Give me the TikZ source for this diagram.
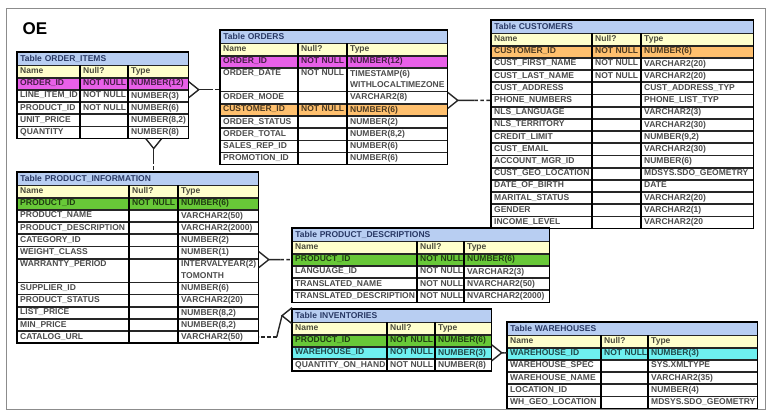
\documentclass[tikz,border=0pt]{standalone}
\usepackage{fontspec}
\setmainfont{Liberation Sans}
\usetikzlibrary{positioning,calc}

\definecolor{titleblue}{RGB}{184,206,242}
\definecolor{titlenavy}{RGB}{40,56,100}
\definecolor{hdryellow}{RGB}{255,255,204}
\definecolor{pkmag}{RGB}{232,96,232}
\definecolor{custorange}{RGB}{255,192,110}
\definecolor{prodgreen}{RGB}{104,200,56}
\definecolor{whcyan}{RGB}{110,240,240}

\newcommand{\rowh}{11.5pt}
\newcommand{\cellfont}{\fontsize{8.5}{11.5}\selectfont\bfseries}

\tikzset{
    tbltitle/.style={draw=black, line width=0.8pt, fill=titleblue, anchor=north west,
        inner xsep=3pt, inner ysep=0pt, minimum height=12.5pt, align=left,
        text=titlenavy, font=\cellfont},
    tblrow/.style={draw=black!85, line width=0.7pt, anchor=north west, inner sep=0pt},
    cell/.style={anchor=north west, inner sep=0pt, align=left, font=\cellfont},
    coldiv/.style={line width=1.3pt},
    tblframe/.style={line width=1.5pt},
    crow/.pic={\draw[relline] (0,-8) -- (10,0) -- (0,8);}
}

% one row: name, null and type cells plus the column dividers
\newcommand{\ercells}[7]{%
    \node[cell, text=#7!30!black] (#1-n) at ($(#1.north west)+(3,2.1)$) {#4};
    \node[cell, text=#7!30!black] (#1-u) at ($(#1.north west)+(#2+3,2.1)$) {#5};
    \node[cell, text=#7!30!black] (#1-t) at ($(#1.north west)+(#2+#3+3,2.1)$) {#6};
    \draw[coldiv] ($(#1.north west)+(#2,0)$) -- ($(#1.south west)+(#2,0)$);
    \draw[coldiv] ($(#1.north west)+(#2+#3,0)$) -- ($(#1.south west)+(#2+#3,0)$);
}

% a table: name, x, y, three column widths, title, rows
\newcommand{\ertable}[8]{%
    \pgfmathsetmacro\erw{#4+#5+#6}
    \pgfmathsetmacro\ertw{#4+#5+#6-6}
    \node[tbltitle, text width=\ertw pt] (#1) at (#2,#3) {Table #7};
    \node[tblrow, fill=hdryellow, minimum width=\erw pt, minimum height=\rowh] (#1-0) at (#1.south west) {};
    \ercells{#1-0}{#4}{#5}{Name}{Null?}{Type}{hdryellow}
    \foreach \fname/\fnull/\ftype/\ffill/\flines [count=\i] in {#8} {
        \pgfmathtruncatemacro\j{\i-1}
        \node[tblrow, fill=\ffill, minimum width=\erw pt, minimum height=\flines*\rowh] (#1-\i) at (#1-\j.south west) {};
        \ercells{#1-\i}{#4}{#5}{\fname}{\fnull}{\ftype}{\ffill}
        \xdef\erlast{\i}
    }
    \draw[tblframe] (#1.north west) rectangle (#1-\erlast.south east);
}

% relation: many end, one end, direction
\newcommand{\erlink}[3]{%
    \pic[rotate=#3] at (#1) {crow};
    \coordinate (crowtip) at ($(#1)+(#3:10pt)$);
    \draw[relline] (crowtip) -- ($(crowtip)!0.5!(#2)$);
    \draw[reldash] ($(crowtip)!0.5!(#2)$) -- (#2);
}

\begin{document}
\begin{tikzpicture}[
    x=1pt, y=-1pt,
    relline/.style={draw=black!85, line width=1.4pt},
    reldash/.style={relline, dash pattern=on 3.5pt off 2.5pt},
    frameline/.style={draw=black!45, line width=0.6pt}
]
\useasboundingbox (0,0) rectangle (775,416);
% Frame and schema label
\draw[frameline] (6,8) rectangle (765,409);
\node[anchor=west, font=\fontsize{17}{20}\selectfont\bfseries] (oe) at (19,29) {OE};
% Order tables
\ertable{items}{17}{52}{63}{48}{60}{ORDER\_ITEMS}{
    ORDER\_ID/NOT NULL/NUMBER(12)/pkmag/1,
    LINE\_ITEM\_ID/NOT NULL/NUMBER(3)/white/1,
    PRODUCT\_ID/NOT NULL/NUMBER(6)/white/1,
    {UNIT\_PRICE//NUMBER(8,2)/white/1},
    QUANTITY//NUMBER(8)/white/1}
\ertable{orders}{220}{30}{78}{49}{100}{ORDERS}{
    ORDER\_ID/NOT NULL/NUMBER(12)/pkmag/1,
    ORDER\_DATE/NOT NULL/TIMESTAMP(6)\\WITHLOCALTIMEZONE/white/2,
    ORDER\_MODE//VARCHAR2(8)/white/1,
    CUSTOMER\_ID/NOT NULL/NUMBER(6)/custorange/1,
    ORDER\_STATUS//NUMBER(2)/white/1,
    {ORDER\_TOTAL//NUMBER(8,2)/white/1},
    SALES\_REP\_ID//NUMBER(6)/white/1,
    PROMOTION\_ID//NUMBER(6)/white/1}
\ertable{customers}{491}{20}{101}{49}{112}{CUSTOMERS}{
    CUSTOMER\_ID/NOT NULL/NUMBER(6)/custorange/1,
    CUST\_FIRST\_NAME/NOT NULL/VARCHAR2(20)/white/1,
    CUST\_LAST\_NAME/NOT NULL/VARCHAR2(20)/white/1,
    CUST\_ADDRESS//CUST\_ADDRESS\_TYP/white/1,
    PHONE\_NUMBERS//PHONE\_LIST\_TYP/white/1,
    NLS\_LANGUAGE//VARCHAR2(3)/white/1,
    NLS\_TERRITORY//VARCHAR2(30)/white/1,
    {CREDIT\_LIMIT//NUMBER(9,2)/white/1},
    CUST\_EMAIL//VARCHAR2(30)/white/1,
    ACCOUNT\_MGR\_ID//NUMBER(6)/white/1,
    CUST\_GEO\_LOCATION//MDSYS.SDO\_GEOMETRY/white/1,
    DATE\_OF\_BIRTH//DATE/white/1,
    MARITAL\_STATUS//VARCHAR2(20)/white/1,
    GENDER//VARCHAR2(1)/white/1,
    INCOME\_LEVEL//VARCHAR2(20/white/1}
% Product tables
\ertable{prodinfo}{17}{172}{112}{49}{80}{PRODUCT\_INFORMATION}{
    PRODUCT\_ID/NOT NULL/NUMBER(6)/prodgreen/1,
    PRODUCT\_NAME//VARCHAR2(50)/white/1,
    PRODUCT\_DESCRIPTION//VARCHAR2(2000)/white/1,
    CATEGORY\_ID//NUMBER(2)/white/1,
    WEIGHT\_CLASS//NUMBER(1)/white/1,
    WARRANTY\_PERIOD//INTERVALYEAR(2)\\TOMONTH/white/2,
    SUPPLIER\_ID//NUMBER(6)/white/1,
    PRODUCT\_STATUS//VARCHAR2(20)/white/1,
    {LIST\_PRICE//NUMBER(8,2)/white/1},
    {MIN\_PRICE//NUMBER(8,2)/white/1},
    CATALOG\_URL//VARCHAR2(50)/white/1}
\ertable{proddesc}{292}{228}{125}{47}{85}{PRODUCT\_DESCRIPTIONS}{
    PRODUCT\_ID/NOT NULL/NUMBER(6)/prodgreen/1,
    LANGUAGE\_ID/NOT NULL/VARCHAR2(3)/white/1,
    TRANSLATED\_NAME/NOT NULL/NVARCHAR2(50)/white/1,
    TRANSLATED\_DESCRIPTION/NOT NULL/NVARCHAR2(2000)/white/1}
% Stock tables
\ertable{inventories}{292}{309}{95}{48}{56}{INVENTORIES}{
    PRODUCT\_ID/NOT NULL/NUMBER(6)/prodgreen/1,
    WAREHOUSE\_ID/NOT NULL/NUMBER(3)/whcyan/1,
    QUANTITY\_ON\_HAND/NOT NULL/NUMBER(8)/white/1}
\ertable{warehouses}{507}{322}{94}{47}{109}{WAREHOUSES}{
    WAREHOUSE\_ID/NOT NULL/NUMBER(3)/whcyan/1,
    WAREHOUSE\_SPEC//SYS.XMLTYPE/white/1,
    WAREHOUSE\_NAME//VARCHAR2(35)/white/1,
    LOCATION\_ID//NUMBER(4)/white/1,
    WH\_GEO\_LOCATION//MDSYS.SDO\_GEOMETRY/white/1}
% Relations
\erlink{items-1.south east}{items-1.south east -| orders.west}{0}
\erlink{customers-5.west -| orders.east}{customers-5.west}{0}
\coordinate (itemsfoot) at ($(items-5.south east)+(-35,0)$);
\erlink{itemsfoot}{itemsfoot |- prodinfo.north}{-90}
\erlink{proddesc-1.west -| prodinfo.east}{proddesc-1.west}{0}
\erlink{inventories-2.east}{inventories-2.east -| warehouses.west}{0}
% Inventories back to product information
\pic[rotate=180] at (inventories.west) {crow};
\coordinate (invtip) at ($(inventories.west)+(-10,0)$);
\coordinate (catbend) at ($(prodinfo-11.east)+(18,0)$);
\draw[relline] (invtip) -- (catbend);
\draw[reldash] (catbend) -- (prodinfo-11.east);
\end{tikzpicture}
\end{document}
